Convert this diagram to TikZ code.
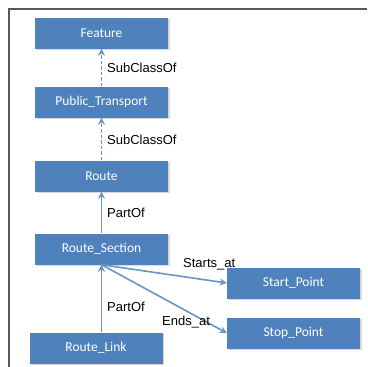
\documentclass[tikz,border=0pt]{standalone}
\usepackage{fontspec}
\setmainfont{Liberation Sans}
\newfontfamily\boxfont{Carlito}
\usetikzlibrary{arrows.meta,shadows}
\definecolor{boxblue}{HTML}{4F81BD}
\definecolor{linkblue}{HTML}{6A93C6}
\begin{document}
\begin{tikzpicture}[x=1pt,y=-1pt,
  classbox/.style={draw=none, fill=boxblue, minimum width=133pt, minimum height=31pt,
    inner sep=0pt, text=white, font=\boxfont\fontsize{13.5}{15}\selectfont,
    drop shadow={shadow xshift=1.5pt, shadow yshift=-1.5pt, opacity=0.3, fill=gray}},
  rel/.style={draw=linkblue, line width=1.6pt, -{Stealth[length=7pt,width=7pt]}},
  subrel/.style={rel, dash pattern=on 3.5pt off 2pt},
  lbl/.style={font=\fontsize{13}{15}\selectfont, text=black, inner sep=1pt}]
  \useasboundingbox (0,0) rectangle (367,367);
  % frame on the top and left
  \draw[black!65, line width=1.6pt] (9,367) -- (9,9) -- (367,9);

  \node[classbox] (feature) at (101.5,33) {Feature};
  \node[classbox] (pt) at (101.5,102) {Public\_Transport};
  \node[classbox] (route) at (101.5,176) {Route};
  \node[classbox] (rs) at (101.5,249) {Route\_Section};
  \node[classbox] (sp) at (293.5,283) {Start\_Point};
  \node[classbox] (stp) at (293.5,333) {Stop\_Point};
  \node[classbox] (rl) at (96,348) {Route\_Link};

  \draw[subrel] (pt.north) -- (feature.south);
  \draw[subrel] (route.north) -- (pt.south);
  \draw[rel] (rs.north) -- (route.south);
  \draw[rel] (rl.north -| rs.south) -- (rs.south);
  \draw[rel] (rs.south) -- (sp.west);
  \draw[rel] (rs.south) -- (stp.west);

  \node[lbl, anchor=west] (l1) at (106,68) {SubClassOf};
  \node[lbl, anchor=west] (l2) at (106,140) {SubClassOf};
  \node[lbl, anchor=west] (l3) at (106,213) {PartOf};
  \node[lbl, anchor=west] (l4) at (106,307) {PartOf};
  \node[lbl, anchor=west] (l5) at (182,264) {Starts\_at};
  \node[lbl, anchor=west] (l6) at (161,322) {Ends\_at};
\end{tikzpicture}
\end{document}
